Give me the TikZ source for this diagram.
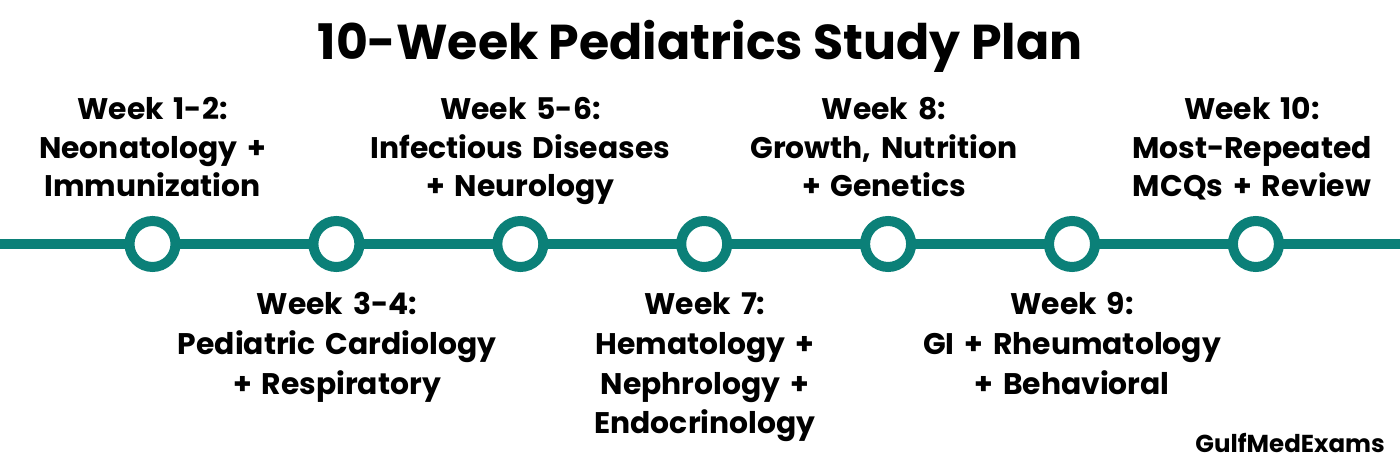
\documentclass[tikz,border=0pt]{standalone}
\usepackage{fontspec}
\setmainfont{Poppins}
\definecolor{teal1}{RGB}{11,128,120}
\tikzset{
  ring/.style={circle, draw=teal1, line width=10pt, fill=white, minimum size=46pt, inner sep=0pt},
  track/.style={draw=teal1, line width=10pt},
  lbl/.style={anchor=base, align=center, text width=420pt, inner sep=0pt,
    font=\fontsize{29.8}{38.5}\selectfont\bfseries},
  lblb/.style={lbl, font=\fontsize{29.8}{39.8}\selectfont\bfseries},
  ttl/.style={anchor=base, inner sep=0pt, font=\fontsize{49}{55}\selectfont\bfseries},
  brandtxt/.style={anchor=base east, inner sep=0pt, font=\fontsize{24.5}{28}\selectfont\bfseries}
}
\begin{document}
\begin{tikzpicture}[x=1pt,y=-1pt]
\useasboundingbox[fill=white] (0,0) rectangle (1400,462);
\coordinate (L) at (0,244);
\coordinate (R) at (1400,244);
\draw[track] (L) -- (R);
\foreach \i/\x in {1/152.5,2/336.4,3/520.3,4/704.2,5/888.1,6/1072,7/1255.9}
  \node[ring] (c\i) at (\x,244) {};
\node[ttl] (title) at (700,60) {10-Week Pediatrics Study Plan};
\node[lbl] (w12) at (152.5,120) {Week 1-2:\\Neonatology +\\Immunization};
\node[lbl] (w56) at (520.3,120) {Week 5-6:\\Infectious Diseases\\+ Neurology};
\node[lbl] (w8) at (884,120) {Week 8:\\Growth, Nutrition\\+ Genetics};
\node[lbl] (w10) at (1252,120) {Week 10:\\Most-Repeated\\MCQs + Review};
\node[lblb] (w34) at (337,314.5) {Week 3-4:\\Pediatric Cardiology\\+ Respiratory};
\node[lblb] (w7) at (705,314.5) {Week 7:\\Hematology +\\Nephrology +\\Endocrinology};
\node[lblb] (w9) at (1072,314.5) {Week 9:\\GI + Rheumatology\\+ Behavioral};
\node[brandtxt] (brand) at (1385,452.7) {GulfMedExams};
\end{tikzpicture}
\end{document}
